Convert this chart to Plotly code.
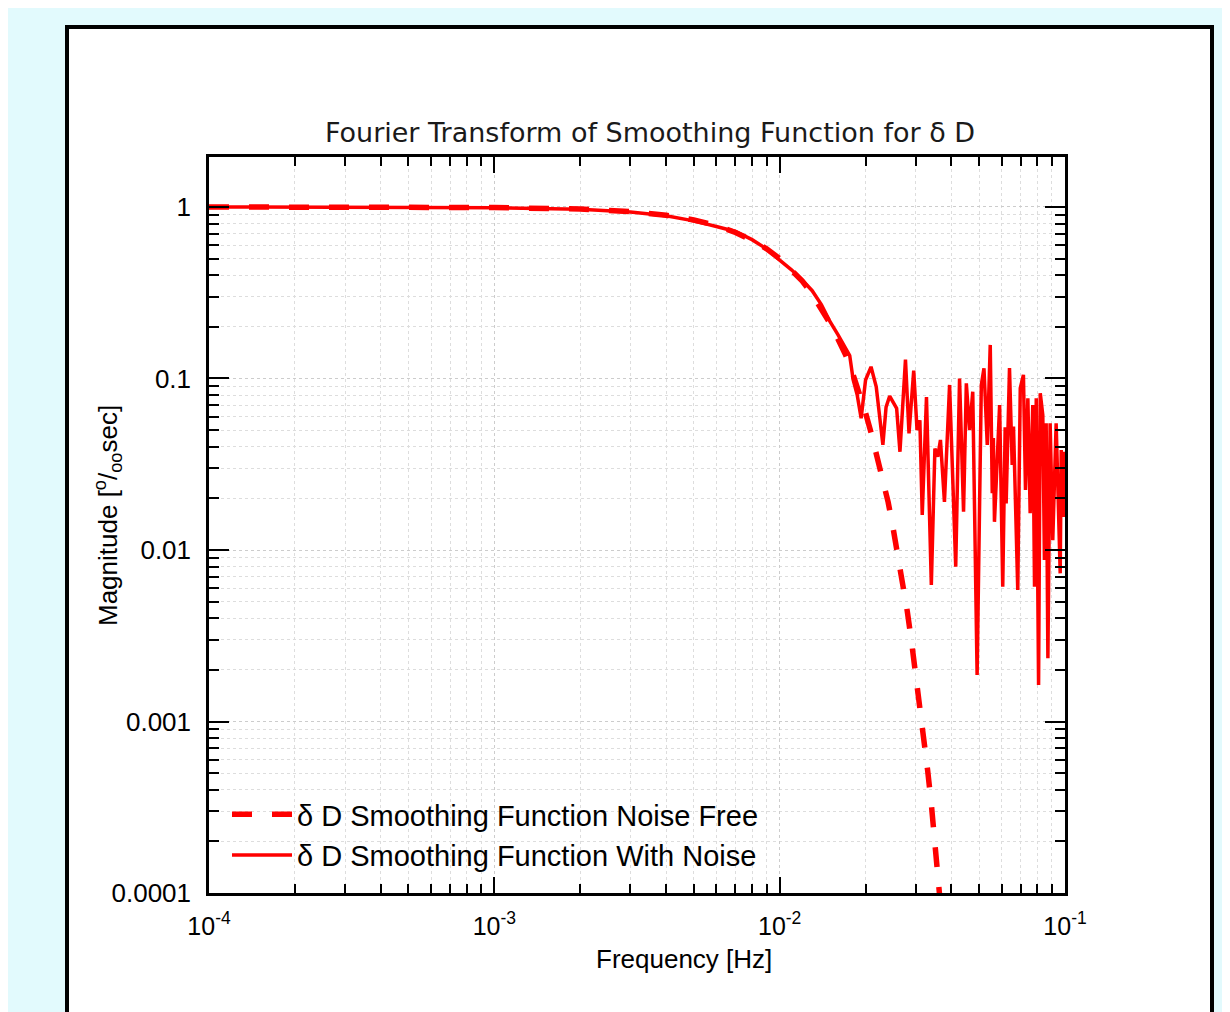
import plotly.graph_objects as go

# ---------------- data ----------------
freq_clean = [1e-4, 2e-4, 5e-4, 1e-3, 2e-3, 3e-3, 4e-3, 5e-3, 6e-3, 7e-3, 8e-3, 9e-3,
              0.010, 0.011, 0.012, 0.013, 0.014, 0.015, 0.016, 0.017, 0.018, 0.019,
              0.020, 0.021, 0.022, 0.023, 0.024, 0.025, 0.026, 0.027, 0.028, 0.029,
              0.030, 0.031, 0.032, 0.033, 0.034, 0.035, 0.036, 0.0365]
mag_clean = [1.0, 1.0, 0.998, 0.993, 0.973, 0.94, 0.895, 0.84, 0.78, 0.71, 0.64, 0.57,
             0.50, 0.43, 0.37, 0.31, 0.257, 0.21, 0.17, 0.138, 0.108, 0.083,
             0.063, 0.047, 0.035, 0.026, 0.019, 0.0133, 0.0093, 0.0064, 0.0044, 0.0029,
             0.0019, 0.00127, 0.00082, 0.00052, 0.00033, 0.0002, 0.000123, 0.00009]

freq_noisy = [1e-4, 2e-4, 5e-4, 1e-3, 2e-3, 3e-3, 4e-3, 5e-3, 6e-3, 7e-3, 8e-3, 9e-3,
              0.010, 0.011, 0.012, 0.013, 0.014, 0.015, 0.016, 0.0171, 0.0176, 0.0181,
              0.0187, 0.0193, 0.0200, 0.0209, 0.0218, 0.0230, 0.0236, 0.0243, 0.0252,
              0.0257, 0.0264, 0.0276, 0.0284, 0.0295, 0.0303, 0.0310, 0.0316, 0.0327,
              0.0340, 0.0350, 0.0358, 0.0366, 0.0378, 0.0394, 0.0414, 0.0427, 0.0441,
              0.0451, 0.0463, 0.0475, 0.0492, 0.0509, 0.0520, 0.0534, 0.0547, 0.0556,
              0.0561, 0.0566, 0.0590, 0.0605, 0.0617, 0.0622, 0.0639, 0.0653, 0.0660,
              0.0683, 0.0697, 0.0715, 0.0727, 0.0741, 0.0755, 0.0771, 0.0782, 0.0793,
              0.0808, 0.0819, 0.0836, 0.0847, 0.0859, 0.0871, 0.0887, 0.0906, 0.0931,
              0.0962, 0.0970, 0.0988, 0.0998]
mag_noisy = [1.0, 0.998, 0.995, 0.99, 0.97, 0.935, 0.89, 0.83, 0.77, 0.72, 0.645, 0.57,
             0.49, 0.43, 0.375, 0.325, 0.27, 0.215, 0.18, 0.146, 0.136, 0.098,
             0.080, 0.0586, 0.098, 0.117, 0.0895, 0.041, 0.068, 0.079, 0.070,
             0.067, 0.0374, 0.129, 0.0479, 0.111, 0.050, 0.057, 0.016, 0.078,
             0.00625, 0.039, 0.035, 0.0438, 0.0191, 0.0917, 0.0080, 0.100, 0.0167,
             0.0938, 0.050, 0.0838, 0.00187, 0.0917, 0.1147, 0.041, 0.157, 0.0214,
             0.045, 0.0146, 0.070, 0.0061, 0.052, 0.0187, 0.115, 0.0313, 0.0524,
             0.00585, 0.0877, 0.105, 0.0224, 0.0767, 0.0164, 0.070, 0.0061, 0.0767,
             0.00163, 0.082, 0.0612, 0.00874, 0.0548, 0.00234, 0.0548, 0.0114, 0.0548,
             0.00731, 0.0383, 0.0156, 0.0374]

x_tick_vals = [1e-4, 1e-3, 1e-2, 1e-1]
x_tick_text = ["10<sup>-4</sup>", "10<sup>-3</sup>", "10<sup>-2</sup>", "10<sup>-1</sup>"]
y_tick_vals = [1e-4, 1e-3, 1e-2, 1e-1, 1]
y_tick_text = ["0.0001", "0.001", "0.01", "0.1", "1"]
minor_multiples = [2, 3, 4, 5, 6, 7, 8, 9]

x_minor = [m * d for d in [1e-4, 1e-3, 1e-2] for m in minor_multiples]
y_minor = [m * d for d in [1e-4, 1e-3, 1e-2, 1e-1, 1] for m in minor_multiples if m * d < 1.95]

RED = "#ff0000"
FONT = "Liberation Sans, Arial, sans-serif"

fig = go.Figure()
fig.add_trace(go.Scatter(
    x=freq_clean, y=mag_clean, mode="lines",
    name="δ D Smoothing Function Noise Free",
    line=dict(color=RED, width=5.5, dash="20px,20px"),
))
fig.add_trace(go.Scatter(
    x=freq_noisy, y=mag_noisy, mode="lines",
    name="δ D Smoothing Function With Noise",
    line=dict(color=RED, width=3.5),
))

W, H = 1230, 1012
OFF = 8  # page offset of the figure inside the browser body
L, R, T, B = 209 - OFF, 1065 - OFF, 157 - OFF, 893 - OFF
pw, ph = R - L, B - T


def px_x(p):
    return (p - OFF - L) / pw


def px_y(p):
    return (B - (p - OFF)) / ph


axis_common = dict(
    type="log", showline=True, linecolor="black", linewidth=2.5, mirror="allticks",
    ticks="inside", tickcolor="black", tickwidth=2,
    showgrid=True, gridcolor="#cccccc", griddash="dot", gridwidth=1,
    zeroline=False,
)

fig.update_layout(
    width=W, height=H,
    paper_bgcolor="#e2fafd", plot_bgcolor="white",
    margin=dict(l=L, r=W - R, t=T, b=H - B),
    showlegend=True,
    title=dict(text="Fourier Transform of Smoothing Function for δ D",
               font=dict(family="DejaVu Sans, sans-serif", size=27, color="#1a1a1a"),
               x=(650 - OFF) / W, xref="container", xanchor="center",
               y=1 - (133 - OFF) / H, yref="container", yanchor="middle"),
    xaxis=dict(**axis_common, range=[-4, -1], tickmode="array",
               tickvals=x_tick_vals, ticktext=x_tick_text, ticklen=16,
               ticklabelstandoff=9,
               tickfont=dict(family=FONT, size=25, color="black"),
               minor=dict(tickmode="array", tickvals=x_minor, ticks="inside", ticklen=9,
                          tickwidth=2, tickcolor="black", showgrid=True,
                          gridcolor="#dddddd", griddash="dot", gridwidth=1)),
    yaxis=dict(**axis_common, range=[-4, 0.2915], tickmode="array",
               tickvals=y_tick_vals, ticktext=y_tick_text, ticklen=20,
               ticklabelstandoff=10,
               tickfont=dict(family=FONT, size=26, color="black"),
               minor=dict(tickmode="array", tickvals=y_minor, ticks="inside", ticklen=10,
                          tickwidth=2, tickcolor="black", showgrid=True,
                          gridcolor="#dddddd", griddash="dot", gridwidth=1)),
    legend=dict(x=px_x(227), y=px_y(789), xanchor="left", yanchor="top",
                bgcolor="rgba(0,0,0,0)", borderwidth=0, itemwidth=60,
                font=dict(family=FONT, size=29, color="black"), tracegroupgap=0),
    annotations=[
        dict(text="Frequency [Hz]", x=px_x(684), y=px_y(959), xref="paper", yref="paper",
             xanchor="center", yanchor="middle", showarrow=False,
             font=dict(family=FONT, size=26, color="black")),
        dict(text="Magnitude [<sup>o</sup>/<sub>oo</sub>sec]", x=px_x(108), y=px_y(516),
             xref="paper", yref="paper", xanchor="center", yanchor="middle",
             textangle=-90, showarrow=False,
             font=dict(family=FONT, size=26, color="black")),
    ],
    shapes=[
        dict(type="rect", xref="paper", yref="paper", layer="below",
             x0=px_x(67), x1=px_x(1212), y0=px_y(1040), y1=px_y(27),
             line=dict(color="black", width=4), fillcolor="white"),
    ],
)

fig.write_html("out.html")
